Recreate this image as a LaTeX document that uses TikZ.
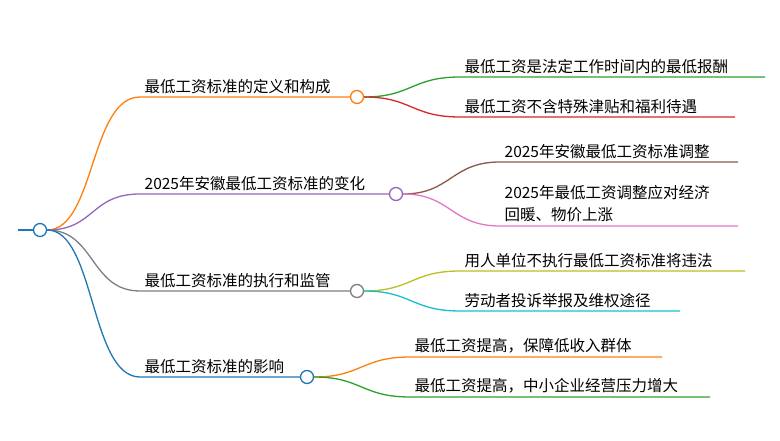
\documentclass[tikz,border=0pt]{standalone}
\usepackage{fontspec}
\newfontfamily\cjk{Noto Sans CJK SC}
\definecolor{corange}{HTML}{FF7F0E}
\definecolor{cgreen}{HTML}{2CA02C}
\definecolor{cred}{HTML}{D62728}
\definecolor{cpurple}{HTML}{9467BD}
\definecolor{cbrown}{HTML}{8C564B}
\definecolor{cpink}{HTML}{E377C2}
\definecolor{cgray}{HTML}{7F7F7F}
\definecolor{colive}{HTML}{BCBD22}
\definecolor{ccyan}{HTML}{17BECF}
\definecolor{cblue}{HTML}{1F77B4}
\begin{document}
\begin{tikzpicture}[x=1pt, y=-1pt, font=\cjk\fontsize{15.5}{22}\selectfont, line width=1.3pt,
  dot/.style={circle, draw, fill=white, inner sep=0pt, minimum size=13pt, line width=1.3pt},
  lbl/.style={anchor=south west, inner xsep=4pt, inner ysep=3pt, align=left}]
  \useasboundingbox (0,0) rectangle (780,441);

  % root
  \node [dot, draw=cblue] (root) at (40,230) {};
  \draw [cblue] (18,230) -- (root.west);

  % branches: y, circle x, colour, name, text
  \foreach \y/\cx/\col/\nm/\txt in {
      97/357/corange/a/最低工资标准的定义和构成,
      194/396/cpurple/b/2025年安徽最低工资标准的变化,
      291/357/cgray/c/最低工资标准的执行和监管,
      377/307/cblue/d/最低工资标准的影响} {
    \coordinate (\nm s) at (140,\y);
    \draw [\col] (root.east) .. controls (95,230) and (90,\y) .. (\nm s) -- (\cx,\y);
    \node [lbl] at (\nm s) {\txt};
    \node [dot, draw=\col] (\nm) at (\cx,\y) {};
  }

  % leaves: parent, parent x, parent y, start x, y, end x, colour, text
  \foreach \p/\px/\py/\sx/\y/\ex/\col/\txt in {
      a/363/97/460/77/765/cgreen/最低工资是法定工作时间内的最低报酬,
      a/363/97/460/117/735/cred/最低工资不含特殊津贴和福利待遇,
      b/402/194/500/162/738/cbrown/2025年安徽最低工资标准调整,
      b/402/194/500/226/738/cpink/{2025年最低工资调整应对经济\\回暖、物价上涨},
      c/363/291/460/271/745/colive/用人单位不执行最低工资标准将违法,
      c/363/291/460/311/680/ccyan/劳动者投诉举报及维权途径,
      d/313/377/410/357/662/corange/最低工资提高，保障低收入群体,
      d/313/377/410/397/710/cgreen/最低工资提高，中小企业经营压力增大} {
    \pgfmathsetmacro\mx{(\px+\sx)/2}
    \coordinate (l) at (\sx,\y);
    \draw [\col] (\p.east) .. controls (\mx,\py) and (\mx,\y) .. (l) -- (\ex,\y);
    \node [lbl] at (l) {\txt};
  }
\end{tikzpicture}
\end{document}
